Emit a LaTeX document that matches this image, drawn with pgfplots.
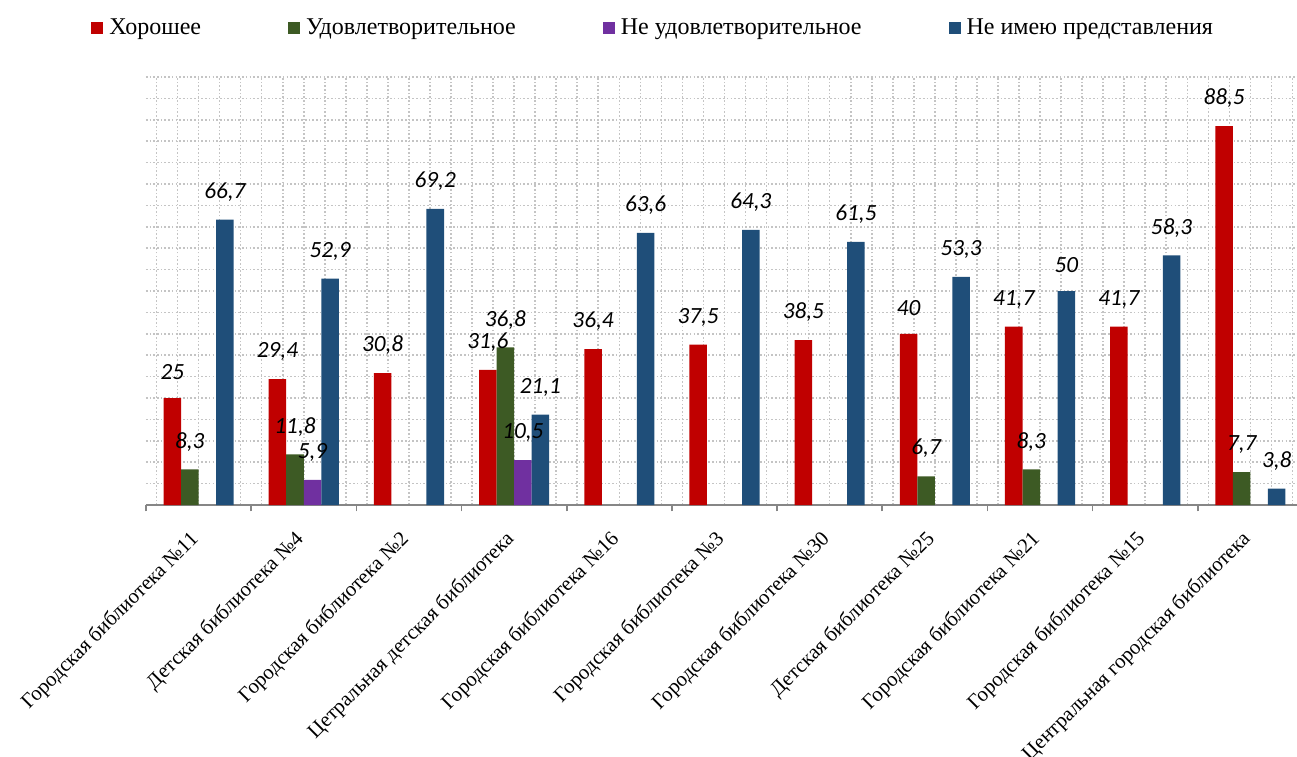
\documentclass[border=0pt]{standalone}
\usepackage{fontspec}
\setmainfont{Liberation Serif}
\newfontfamily\carlito{Carlito}
\usepackage{pgfplots}
\pgfplotsset{compat=1.18}
\definecolor{cRed}{HTML}{C00000}
\definecolor{cGreen}{HTML}{3D5A24}
\definecolor{cPurple}{HTML}{7030A0}
\definecolor{cBlue}{HTML}{1F4E79}
\definecolor{gridc}{HTML}{C4C4C4}
\definecolor{axc}{HTML}{868686}
\newcommand\tickfont{\fontsize{10.4}{12}\selectfont}
\newcommand\legendfont{\fontsize{12}{14}\selectfont}
\newcommand\labelfont{\carlito\itshape\fontsize{11.6}{13}\selectfont}
\begin{document}
\begin{tikzpicture}
\useasboundingbox (0,0) rectangle (648.5pt,378pt);
\clip (0,0) rectangle (648.5pt,378pt);
\begin{axis}[
  at={(73pt,125.5pt)}, anchor=south west,
  scale only axis, width=578.5pt, height=214pt,
  xmin=-0.5, xmax=10.5, ymin=0, ymax=100,
  ybar, bar width=0.1667,
  axis x line*=bottom, axis y line*=left,
  x axis line style={-, draw=axc, line width=0.8pt},
  y axis line style={draw=none},
  ytick={0,5,...,100}, yticklabels={}, ytick style={draw=none}, ytick pos=left,
  xtick={0,1,2,3,4,5,6,7,8,9,10},
  xticklabels={Городская библиотека №11, Детская библиотека №4, Городская библиотека №2, Цетральная детская библиотека, Городская библиотека №16, Городская библиотека №3, Городская библиотека №30, Детская библиотека №25, Городская библиотека №21, Городская библиотека №15, Центральная городская библиотека},
  xtick pos=lower,
  major tick length=0pt, minor tick length=0pt,
  minor xtick={-0.4,-0.2,0.2,0.4,0.6,0.8,1.2,1.4,1.6,1.8,2.2,2.4,2.6,2.8,3.2,3.4,3.6,3.8,4.2,4.4,4.6,4.8,5.2,5.4,5.6,5.8,6.2,6.4,6.6,6.8,7.2,7.4,7.6,7.8,8.2,8.4,8.6,8.8,9.2,9.4,9.6,9.8,10.2,10.4},
  xmajorgrids, xminorgrids, ymajorgrids,
  major grid style={draw=gridc, line width=0.8pt, dash pattern=on 0.8pt off 1.05pt},
  minor grid style={draw=gridc, line width=0.8pt, dash pattern=on 0.8pt off 1.05pt},
  extra x ticks={-0.5,0.5,1.5,2.5,3.5,4.5,5.5,6.5,7.5,8.5,9.5,10.5},
  extra x tick labels={},
  extra x tick style={grid=none, major tick length=3.2pt, tick align=outside, tick style={draw=axc, line width=0.8pt}},
  xticklabel style={xshift=-5pt, yshift=-12pt, rotate=45, anchor=north east, inner sep=0pt, font=\tickfont},
  nodes near coords={\pgfmathprintnumber[assume math mode=true,use comma,precision=1]{\pgfplotspointmeta}},
  every node near coord/.append style={font=\labelfont, anchor=south, inner sep=0pt, yshift=9pt, text=black},
  legend columns=4,
  legend image code/.code={\fill[#1] (0pt,-3pt) rectangle (6pt,3pt);},
  legend style={at={(axis description cs:-0.0475,1.1145)}, anchor=west, draw=none, fill=none, inner sep=0pt, font=\legendfont, nodes={inner sep=0pt},
    /tikz/every odd column/.append style={column sep=3pt},
    /tikz/every even column/.append style={column sep=43.5pt}},
]
\addplot[fill=cRed, draw=none, bar shift=-0.25] coordinates {(0,25) (1,29.4) (2,30.8) (3,31.6) (4,36.4) (5,37.5) (6,38.5) (7,40) (8,41.7) (9,41.7) (10,88.5)};
\addlegendentry{Хорошее}
\addplot[fill=cGreen, draw=none, bar shift=-0.0833] coordinates {(0,8.3) (1,11.8) (3,36.8) (7,6.7) (8,8.3) (10,7.7)};
\addlegendentry{Удовлетворительное}
\addplot[fill=cPurple, draw=none, bar shift=0.0833] coordinates {(1,5.9) (3,10.5)};
\addlegendentry{Не удовлетворительное}
\addplot[fill=cBlue, draw=none, bar shift=0.25] coordinates {(0,66.7) (1,52.9) (2,69.2) (3,21.1) (4,63.6) (5,64.3) (6,61.5) (7,53.3) (8,50) (9,58.3) (10,3.8)};
\addlegendentry{Не имею представления}
\end{axis}
\end{tikzpicture}
\end{document}
